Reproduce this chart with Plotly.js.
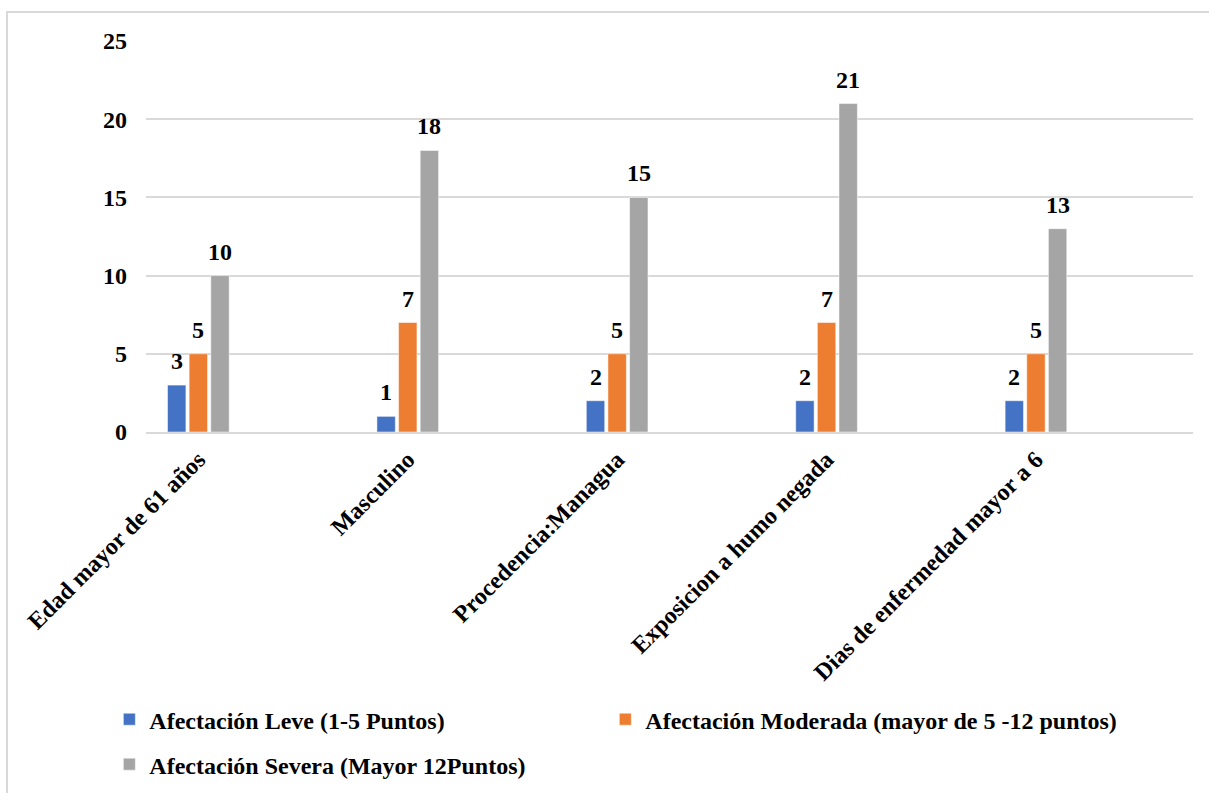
<!DOCTYPE html>
<html>
<head>
<meta charset="utf-8">
<script src="https://cdn.plot.ly/plotly-3.0.1.min.js"></script>
<style>
html,body{margin:0;padding:0;background:#fff;}
#wrap{position:relative;width:1209px;height:793px;overflow:hidden;}
#chart{position:absolute;left:0;top:0;width:1209px;height:793px;}
#frame{position:absolute;left:6px;top:11px;width:1220px;height:800px;border-left:2px solid #d9d9d9;border-top:2px solid #d9d9d9;pointer-events:none;}
</style>
</head>
<body>
<div id="wrap"><div id="chart"></div><div id="frame"></div></div>
<script>
const categories = ["Edad mayor de 61 años", "Masculino", "Procedencia:Managua", "Exposicion a humo negada", "Dias de enfermedad mayor a 6"];
const seriesNames = ["Afectación Leve (1-5 Puntos)", "Afectación Moderada (mayor de 5 -12 puntos)", "Afectación Severa (Mayor 12Puntos)"];
const leve = [3, 1, 2, 2, 2];
const moderada = [5, 7, 5, 7, 5];
const severa = [10, 18, 15, 21, 13];
const colors = ["#4472C4", "#ED7D31", "#A5A5A5"];
const yTicks = [0, 5, 10, 15, 20, 25];

const FONT = "Liberation Serif, Times New Roman, serif";
const values = [leve, moderada, severa];
const legends = ["legend", "legend3", "legend2"];
const BOLD = {family: FONT, size: 24, color: "#000", weight: "bold"};

const traces = values.map((v, i) => ({
  type: "bar",
  name: seriesNames[i],
  x: categories,
  y: v,
  marker: {color: colors[i], line: {color: "#fff", width: 0.5}},
  legend: legends[i],
  hoverinfo: "skip"
}));

// data labels placed via annotations at each bar's value
const slot = 21.6;
const annotations = [];
values.forEach((v, i) => {
  v.forEach((val, j) => {
    annotations.push({
      x: categories[j], y: val, xref: "x", yref: "y",
      text: String(val), showarrow: false,
      xanchor: "center", yanchor: "bottom",
      xshift: (i - 1) * slot, yshift: 9,
      font: BOLD
    });
  });
});

const legendBase = {
  orientation: "h",
  xanchor: "left",
  yanchor: "top",
  font: BOLD,
  bgcolor: "rgba(0,0,0,0)"
};

const layout = {
  width: 1209,
  height: 793,
  margin: {l: 146, r: 16, t: 41, b: 361, autoexpand: false},
  paper_bgcolor: "#fff",
  plot_bgcolor: "#fff",
  font: BOLD,
  barmode: "group",
  bargap: 0.69,
  bargroupgap: 0.15,
  xaxis: {
    type: "category",
    range: [-0.25, 4.75],
    tickangle: -45,
    tickfont: BOLD,
    showgrid: false,
    showline: true,
    linecolor: "#d9d9d9",
    linewidth: 2,
    ticks: "",
    ticklabelstandoff: 2
  },
  yaxis: {
    range: [0, 25],
    tickvals: yTicks,
    ticktext: yTicks.map(String),
    tickfont: BOLD,
    showgrid: true,
    gridcolor: "#d9d9d9",
    gridwidth: 2,
    zeroline: false,
    showline: false,
    ticks: "",
    ticklabelstandoff: 18
  },
  legend: Object.assign({}, legendBase, {x: -0.035, y: -0.678}),
  legend3: Object.assign({}, legendBase, {x: 0.4387, y: -0.678}),
  legend2: Object.assign({}, legendBase, {x: -0.035, y: -0.793}),
  annotations: annotations,
  showlegend: true
};

Plotly.newPlot("chart", traces, layout, {displayModeBar: false, staticPlot: true});
</script>
</body>
</html>
